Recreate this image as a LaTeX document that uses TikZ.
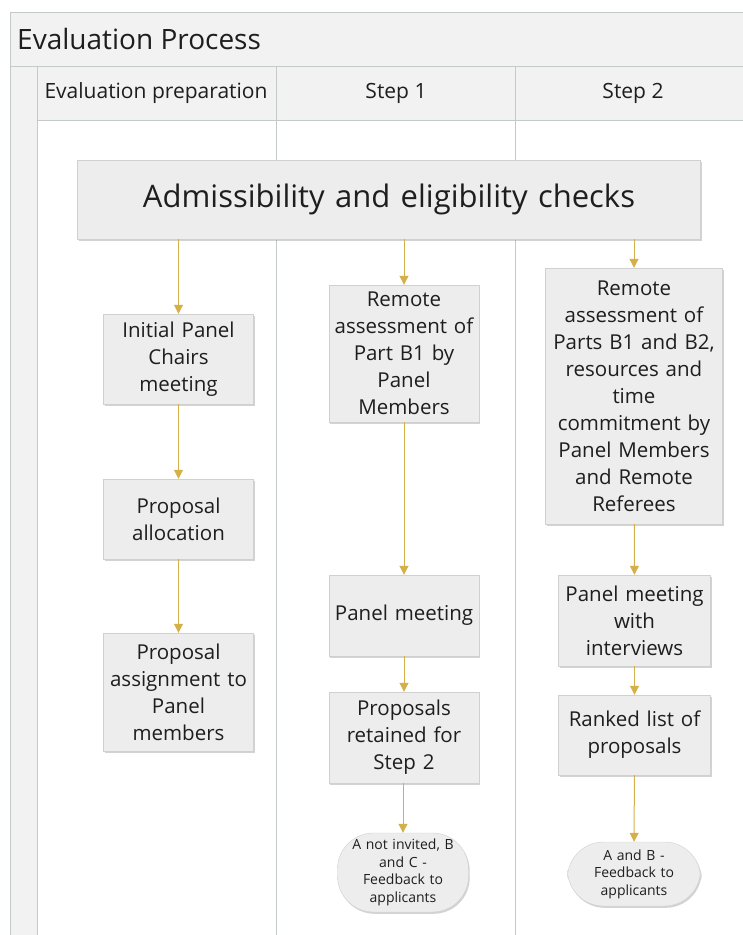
\documentclass[tikz,border=0pt]{standalone}
\usepackage{fontspec}
\setmainfont{Open Sans}
\usetikzlibrary{arrows.meta,shadows}
\definecolor{gold}{HTML}{D4B04A}
\definecolor{boxfill}{HTML}{EDEDED}
\definecolor{boxline}{HTML}{D0D0D0}
\definecolor{poolfill}{HTML}{F2F2F2}
\definecolor{poolline}{HTML}{C4CACA}
\definecolor{txt}{HTML}{1E1E1E}
\begin{document}
\begin{tikzpicture}[x=1pt,y=-1pt,
  every node/.style={text=txt},
  box/.style={draw=boxline, fill=boxfill, align=center, inner sep=1pt,
    font=\fontsize{20.5}{27}\selectfont, text width=#1,
    drop shadow={shadow xshift=1.2pt, shadow yshift=-1.8pt, opacity=0.35}},
  box/.default=148pt,
  term/.style={draw=boxline, fill=boxfill, align=center, inner sep=1pt,
    rounded corners=36pt, font=\fontsize{14}{17.5}\selectfont, text width=#1,
    drop shadow={shadow xshift=1.2pt, shadow yshift=-1.8pt, opacity=0.35}},
  flow/.style={draw=gold, line width=1pt, -{Triangle[width=9pt,length=9pt]}},
  lanehead/.style={font=\fontsize{21}{26}\selectfont}]
\useasboundingbox (0,0) rectangle (743,935);
% pool
\fill[poolfill] (10,12) rectangle (743,66);
\fill[poolfill] (10,66) rectangle (37,935);
\fill[poolfill] (37,66) rectangle (743,120);
\draw[poolline, line width=0.8pt] (743,12) -- (10,12) -- (10,935);
\draw[poolline, line width=0.8pt] (10,66) -- (743,66);
\draw[poolline, line width=0.8pt] (37,66) -- (37,935);
\draw[poolline, line width=0.8pt] (37,120) -- (743,120);
\draw[poolline, line width=0.8pt] (276,66) -- (276,935);
\draw[poolline, line width=0.8pt] (515,66) -- (515,935);
\node[anchor=west, font=\fontsize{28}{32}\selectfont, inner sep=0pt] (title) at (17,39) {Evaluation Process};
\node[lanehead] (h1) at (156,93) {Evaluation preparation};
\node[lanehead] (h2) at (396,93) {Step 1};
\node[lanehead] (h3) at (633,93) {Step 2};
% nodes
\node[box=621pt, minimum height=79pt, font=\fontsize{31}{36}\selectfont] (adm) at (389,199.5) {Admissibility and eligibility checks};
\node[box, minimum height=90pt] (init) at (178.5,359) {Initial Panel\\Chairs\\meeting};
\node[box, minimum height=80pt] (alloc) at (178.5,519) {Proposal\\allocation};
\node[box, minimum height=118pt] (assign) at (178.5,692) {Proposal\\assignment to\\Panel\\members};
\node[box, minimum height=137pt] (rb1) at (404,353.5) {Remote\\assessment of\\Part B1 by\\Panel\\Members};
\node[box, minimum height=81pt] (pm1) at (404,615.5) {Panel meeting};
\node[box, minimum height=91pt] (ret) at (404,737.5) {Proposals\\retained for\\Step 2};
\node[term=129pt, minimum height=79pt] (fb1) at (403,872.5) {A not invited, B\\and C -\\Feedback to\\applicants};
\node[box=175pt, minimum height=256pt] (rb2) at (634,396) {Remote\\assessment of\\Parts B1 and B2,\\resources and\\time\\commitment by\\Panel Members\\and Remote\\Referees};
\node[box=150pt, minimum height=91pt] (pmi) at (634.5,620.5) {Panel meeting\\with\\interviews};
\node[box=150pt, minimum height=80pt] (rank) at (634.5,735) {Ranked list of\\proposals};
\node[term=131pt, minimum height=64pt] (fb2) at (634,874) {A and B -\\Feedback to\\applicants};
% connectors
\draw[flow] (adm.south -| init.north) -- (init.north);
\draw[flow] (adm.south -| rb1.north) -- (rb1.north);
\draw[flow] (adm.south -| rb2.north) -- (rb2.north);
\draw[flow] (init) -- (alloc);
\draw[flow] (alloc) -- (assign);
\draw[flow] (rb1) -- (pm1);
\draw[flow] (pm1) -- (ret);
\draw[flow] (ret.south -| fb1.north) -- (fb1.north);
\draw[flow] (rb2) -- (pmi);
\draw[flow] (pmi) -- (rank);
\draw[flow] (rank) -- (fb2);
\end{tikzpicture}
\end{document}
